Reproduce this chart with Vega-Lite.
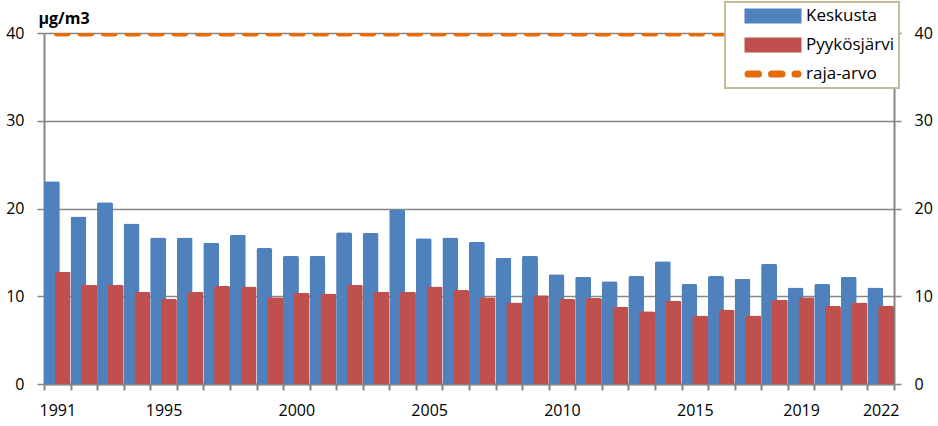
{
  "$schema": "https://vega.github.io/schema/vega-lite/v6.json",
  "width": 850,
  "height": 351,
  "autosize": {"type": "none"},
  "padding": {"left": 44, "top": 33, "right": 44, "bottom": 42},
  "background": "white",
  "config": {
    "font": "Open Sans",
    "view": {"stroke": null},
    "axisX": {
      "domainColor": "#868686", "domainWidth": 2,
      "tickColor": "#868686", "tickWidth": 2, "tickSize": 6, "tickBand": "extent",
      "labelFontSize": 16, "labelColor": "black", "labelPadding": 12, "labelAngle": 0,
      "labelOverlap": false,
      "labelExpr": "indexof([1991,1995,2000,2005,2010,2015,2019,2022], datum.value) >= 0 ? datum.label : ''",
      "grid": false, "title": null
    },
    "axisY": {
      "domainColor": "#868686", "domainWidth": 2,
      "tickColor": "#868686", "tickWidth": 1.5, "tickSize": 7,
      "labelFontSize": 16, "labelColor": "black", "labelPadding": 13,
      "gridColor": "#868686", "gridWidth": 1.3
    }
  },
  "datasets": {
    "pm": [
      {"year": 1991, "series": "Keskusta", "value": 23.1},
      {"year": 1992, "series": "Keskusta", "value": 19.1},
      {"year": 1993, "series": "Keskusta", "value": 20.7},
      {"year": 1994, "series": "Keskusta", "value": 18.3},
      {"year": 1995, "series": "Keskusta", "value": 16.7},
      {"year": 1996, "series": "Keskusta", "value": 16.7},
      {"year": 1997, "series": "Keskusta", "value": 16.1},
      {"year": 1998, "series": "Keskusta", "value": 17.0},
      {"year": 1999, "series": "Keskusta", "value": 15.5},
      {"year": 2000, "series": "Keskusta", "value": 14.6},
      {"year": 2001, "series": "Keskusta", "value": 14.6},
      {"year": 2002, "series": "Keskusta", "value": 17.3},
      {"year": 2003, "series": "Keskusta", "value": 17.2},
      {"year": 2004, "series": "Keskusta", "value": 19.9},
      {"year": 2005, "series": "Keskusta", "value": 16.6},
      {"year": 2006, "series": "Keskusta", "value": 16.7},
      {"year": 2007, "series": "Keskusta", "value": 16.2},
      {"year": 2008, "series": "Keskusta", "value": 14.4},
      {"year": 2009, "series": "Keskusta", "value": 14.6},
      {"year": 2010, "series": "Keskusta", "value": 12.5},
      {"year": 2011, "series": "Keskusta", "value": 12.2},
      {"year": 2012, "series": "Keskusta", "value": 11.7},
      {"year": 2013, "series": "Keskusta", "value": 12.3},
      {"year": 2014, "series": "Keskusta", "value": 14.0},
      {"year": 2015, "series": "Keskusta", "value": 11.4},
      {"year": 2016, "series": "Keskusta", "value": 12.3},
      {"year": 2017, "series": "Keskusta", "value": 12.0},
      {"year": 2018, "series": "Keskusta", "value": 13.7},
      {"year": 2019, "series": "Keskusta", "value": 11.0},
      {"year": 2020, "series": "Keskusta", "value": 11.4},
      {"year": 2021, "series": "Keskusta", "value": 12.2},
      {"year": 2022, "series": "Keskusta", "value": 11.0},
      {"year": 1991, "series": "Pyykösjärvi", "value": 12.8},
      {"year": 1992, "series": "Pyykösjärvi", "value": 11.3},
      {"year": 1993, "series": "Pyykösjärvi", "value": 11.3},
      {"year": 1994, "series": "Pyykösjärvi", "value": 10.5},
      {"year": 1995, "series": "Pyykösjärvi", "value": 9.7},
      {"year": 1996, "series": "Pyykösjärvi", "value": 10.5},
      {"year": 1997, "series": "Pyykösjärvi", "value": 11.2},
      {"year": 1998, "series": "Pyykösjärvi", "value": 11.1},
      {"year": 1999, "series": "Pyykösjärvi", "value": 9.9},
      {"year": 2000, "series": "Pyykösjärvi", "value": 10.4},
      {"year": 2001, "series": "Pyykösjärvi", "value": 10.3},
      {"year": 2002, "series": "Pyykösjärvi", "value": 11.3},
      {"year": 2003, "series": "Pyykösjärvi", "value": 10.5},
      {"year": 2004, "series": "Pyykösjärvi", "value": 10.5},
      {"year": 2005, "series": "Pyykösjärvi", "value": 11.1},
      {"year": 2006, "series": "Pyykösjärvi", "value": 10.7},
      {"year": 2007, "series": "Pyykösjärvi", "value": 9.9},
      {"year": 2008, "series": "Pyykösjärvi", "value": 9.3},
      {"year": 2009, "series": "Pyykösjärvi", "value": 10.1},
      {"year": 2010, "series": "Pyykösjärvi", "value": 9.7},
      {"year": 2011, "series": "Pyykösjärvi", "value": 9.8},
      {"year": 2012, "series": "Pyykösjärvi", "value": 8.8},
      {"year": 2013, "series": "Pyykösjärvi", "value": 8.3},
      {"year": 2014, "series": "Pyykösjärvi", "value": 9.5},
      {"year": 2015, "series": "Pyykösjärvi", "value": 7.8},
      {"year": 2016, "series": "Pyykösjärvi", "value": 8.5},
      {"year": 2017, "series": "Pyykösjärvi", "value": 7.8},
      {"year": 2018, "series": "Pyykösjärvi", "value": 9.6},
      {"year": 2019, "series": "Pyykösjärvi", "value": 9.9},
      {"year": 2020, "series": "Pyykösjärvi", "value": 8.9},
      {"year": 2021, "series": "Pyykösjärvi", "value": 9.3},
      {"year": 2022, "series": "Pyykösjärvi", "value": 8.9}
    ],
    "limit": [
      {"year": 1991, "series": "raja-arvo", "value": 40},
      {"year": 2022, "series": "raja-arvo", "value": 40}
    ]
  },
  "layer": [
    {
      "data": {"name": "pm"},
      "transform": [{"filter": "datum.series === 'Keskusta'"}],
      "mark": {"type": "bar", "width": {"band": 0.6}, "xOffset": -5.4, "cornerRadiusTopLeft": 2, "cornerRadiusTopRight": 2},
      "encoding": {
        "x": {"field": "year", "type": "ordinal", "scale": {"paddingInner": 0, "paddingOuter": 0}},
        "y": {
          "field": "value", "type": "quantitative",
          "scale": {"domain": [0, 40], "nice": false},
          "axis": {
            "orient": "left", "grid": true, "values": [0, 10, 20, 30, 40],
            "title": "µg/m3", "titleAngle": 0, "titleX": -6, "titleY": -10,
            "titleAlign": "left", "titleBaseline": "alphabetic",
            "titleFontSize": 16, "titleFontWeight": "bold", "titleColor": "black"
          }
        },
        "color": {
          "field": "series", "type": "nominal",
          "scale": {"domain": ["Keskusta", "Pyykösjärvi", "raja-arvo"], "range": ["#4F81BD", "#C0504D", "#E46C0A"]},
          "legend": {
            "orient": "none", "legendX": 681, "legendY": -31,
            "title": " ", "titleOrient": "left", "titlePadding": 11, "titleFontSize": 16,
            "direction": "vertical", "fillColor": "white", "strokeColor": "#C4BD97",
            "padding": 5, "labelFontSize": 17, "labelColor": "black",
            "symbolSize": 3249, "symbolStrokeWidth": 7, "labelOffset": 1,
            "clipHeight": 18, "rowPadding": 11,
            "encode": {
              "legend": {"update": {"strokeWidth": {"value": 2}}},
              "symbols": {
                "update": {
                  "shape": {"signal": "datum.value === 'raja-arvo' ? 'M-0.877,0L0.877,0' : 'M-1,-0.26L1,-0.26L1,0.26L-1,0.26Z'"},
                  "fill": {"signal": "datum.value === 'raja-arvo' ? 'transparent' : scale('color', datum.value)"},
                  "stroke": {"signal": "scale('color', datum.value)"},
                  "strokeOpacity": {"signal": "datum.value === 'raja-arvo' ? 1 : 0"},
                  "fillOpacity": {"value": 1},
                  "strokeWidth": {"value": 7},
                  "strokeDash": {"signal": "datum.value === 'raja-arvo' ? [10.5, 13] : [1, 0]"},
                  "strokeCap": {"value": "round"},
                  "opacity": {"value": 1}
                }
              }
            }
          }
        }
      }
    },
    {
      "data": {"name": "pm"},
      "transform": [{"filter": "datum.series === 'Pyykösjärvi'"}],
      "mark": {"type": "bar", "width": {"band": 0.6}, "xOffset": 5.4, "cornerRadiusTopLeft": 2, "cornerRadiusTopRight": 2},
      "encoding": {
        "x": {"field": "year", "type": "ordinal"},
        "y": {
          "field": "value", "type": "quantitative",
          "axis": {"orient": "right", "grid": false, "title": null, "values": [0, 10, 20, 30, 40]}
        },
        "color": {"field": "series", "type": "nominal"}
      }
    },
    {
      "data": {"name": "limit"},
      "mark": {"type": "line", "strokeWidth": 7, "strokeDash": [10, 13.5], "strokeCap": "round", "clip": true},
      "encoding": {
        "x": {"field": "year", "type": "ordinal"},
        "y": {"field": "value", "type": "quantitative", "axis": null},
        "color": {"field": "series", "type": "nominal"}
      }
    }
  ],
  "resolve": {"axis": {"y": "independent"}}
}
